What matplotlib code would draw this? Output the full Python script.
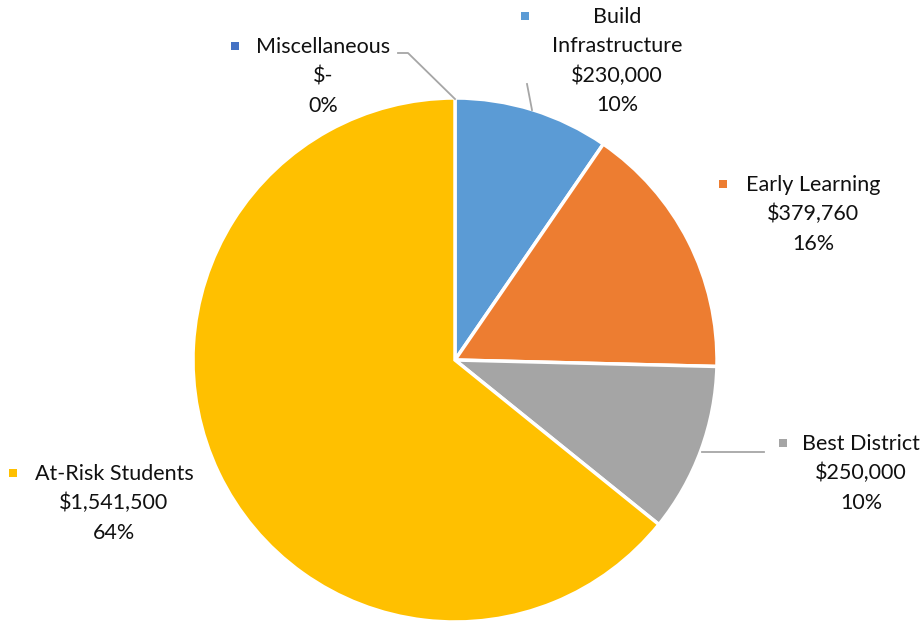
import matplotlib
matplotlib.use('Agg')
import matplotlib.pyplot as plt

# Données
categories = ['Miscellaneous', 'Build\nInfrastructure', 'Early Learning', 'Best District', 'At-Risk Students']
valeurs = [0, 230000, 379760, 250000, 1541500]
montants = ['$-', '$230,000', '$379,760', '$250,000', '$1,541,500']
pourcents = ['0%', '10%', '16%', '10%', '64%']
couleurs = ['#4472C4', '#5B9BD5', '#ED7D31', '#A5A5A5', '#FFC000']

plt.rcParams['font.family'] = ['Lato', 'DejaVu Sans']

W, H = 922, 624
fig = plt.figure(figsize=(W / 100, H / 100), dpi=100)
ax = fig.add_axes([0, 0, 1, 1])

# y en pixels depuis le haut
def py(y):
    return H - y

ax.pie(valeurs, colors=couleurs, startangle=90, counterclock=False,
       center=(455, py(360)), radius=262, frame=True,
       wedgeprops=dict(edgecolor='white', linewidth=2.5))
ax.set_xlim(0, W)
ax.set_ylim(0, H)
ax.set_aspect('equal')
ax.axis('off')

# Lignes de rappel
gris = '#A6A6A6'
ax.plot([398, 408, 455], [py(53), py(53), py(99)], color=gris, lw=1.3)
ax.plot([527, 532], [py(84), py(110)], color=gris, lw=1.3)
ax.plot([702, 764], [py(452), py(452)], color=gris, lw=1.3)

# Étiquettes : (x centre, y première ligne, marqueur x, marqueur y)
positions = [
    (323, 47, 235, 46),
    (617, 17, 525, 16),
    (813, 185, 723, 184),
    (861, 444, 783, 443),
    (114, 474, 13, 473),
]

taille = 15.5
for i, (xc, y0, mx, my) in enumerate(positions):
    lignes = categories[i].split('\n') + [montants[i], pourcents[i]]
    for k, ligne in enumerate(lignes):
        ax.text(xc, py(y0 + 29.3 * k), ligne, ha='center', va='center',
                fontsize=taille, color='#111111')
    ax.plot(mx, py(my), marker='s', markersize=6, color=couleurs[i], mew=0)

fig.savefig('out.png', dpi=100)
